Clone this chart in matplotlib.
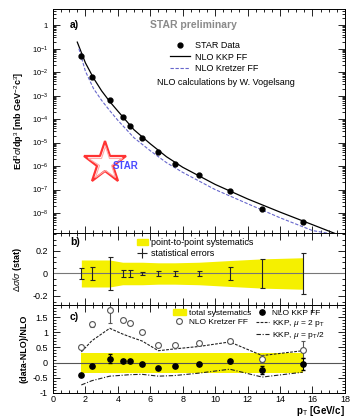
import numpy as np
import matplotlib
matplotlib.use("Agg")
import matplotlib.pyplot as plt
from matplotlib.ticker import MultipleLocator, LogLocator, NullFormatter
from matplotlib.lines import Line2D
from matplotlib.patches import Patch

plt.rcParams['font.family'] = ['Liberation Sans', 'DejaVu Sans']
plt.rcParams['mathtext.fontset'] = 'custom'
plt.rcParams['mathtext.rm'] = 'Liberation Sans'
plt.rcParams['mathtext.it'] = 'Liberation Sans:italic'

# ---- data ----
pt = [1.75, 2.4, 3.5, 4.3, 4.75, 5.5, 6.5, 7.5, 9.0, 10.9, 12.9, 15.4]
xsec = [4.8e-2, 6.3e-3, 6.3e-4, 1.26e-4, 5.0e-5, 1.6e-5, 4.0e-6, 1.26e-6,
        4.0e-7, 8.7e-8, 1.5e-8, 4.2e-9]

# NLO curves
kkp_pt = [1.5, 2.0, 2.5, 3.0, 3.5, 4.0, 5.0, 6.0, 7.0, 8.0, 10.0, 12.0, 14.0, 16.0, 17.5]
kkp_xsec = [0.19, 2.5e-2, 5.6e-3, 1.6e-3, 5.6e-4, 2.2e-4, 3.5e-5, 8.9e-6,
            2.5e-6, 8.9e-7, 1.66e-7, 4.0e-8, 1.1e-8, 3.2e-9, 1.26e-9]
kretzer_pt = [1.6, 2.0, 2.5, 3.0, 3.5, 4.0, 5.0, 6.0, 7.0, 8.0, 10.0, 12.0, 14.0, 16.0, 16.9]
kretzer_xsec = [0.1, 1.1e-2, 2.0e-3, 6.3e-4, 2.3e-4, 8.9e-5, 1.6e-5, 4.5e-6,
                1.4e-6, 5.4e-7, 1.0e-7, 2.5e-8, 6.3e-9, 1.8e-9, 1.4e-9]

# relative errors
stat_err = [0.052, 0.058, 0.143, 0.027, 0.027, 0.015, 0.02, 0.02, 0.022, 0.062, 0.13, 0.184]
p2p_sys = [0.12, 0.12, 0.12, 0.10, 0.10, 0.10, 0.095, 0.095, 0.10, 0.115, 0.13, 0.14]

# (data-NLO)/NLO
kkp_ratio = [-0.42, -0.13, 0.13, 0.04, 0.04, -0.05, -0.19, -0.13, -0.05, 0.04, -0.25, -0.05]
kkp_ratio_err = [0.03, 0.03, 0.16, 0.03, 0.03, 0.02, 0.02, 0.02, 0.03, 0.05, 0.13, 0.2]
kretzer_ratio = [0.52, 1.26, 1.74, 1.39, 1.29, 1.0, 0.58, 0.58, 0.63, 0.71, 0.13, 0.42]
kretzer_ratio_err = [0.05, 0.08, 0.42, 0.05, 0.05, 0.03, 0.03, 0.03, 0.04, 0.06, 0.12, 0.28]
mu2_ratio = [0.35, 0.72, 1.13, 0.94, 0.85, 0.71, 0.39, 0.45, 0.53, 0.68, 0.23, 0.39]
muhalf_ratio = [-0.74, -0.6, -0.45, -0.42, -0.40, -0.39, -0.45, -0.43, -0.35, -0.22, -0.48, -0.32]
tot_sys = [0.33, 0.33, 0.33, 0.33, 0.33, 0.33, 0.33, 0.33, 0.33, 0.33, 0.33, 0.33]

fs = 6.5
yellow = '#f5f000'

fig = plt.figure(figsize=(3.53, 4.17), dpi=100)
ax_a = fig.add_axes([0.150, 0.441, 0.827, 0.537])
ax_b = fig.add_axes([0.150, 0.2686, 0.827, 0.1727])
ax_c = fig.add_axes([0.150, 0.058, 0.827, 0.2106])

def style_axis(ax):
    ax.set_xlim(0, 18)
    ax.xaxis.set_major_locator(MultipleLocator(2))
    ax.xaxis.set_minor_locator(MultipleLocator(0.5))
    ax.tick_params(which='both', direction='in', top=True, right=True,
                   labelsize=fs, width=0.6)
    ax.tick_params(which='major', length=5)
    ax.tick_params(which='minor', length=2.5)
    for s in ax.spines.values():
        s.set_linewidth(0.7)

# ---- a) cross section ----
ax_a.set_yscale('log')
ax_a.plot(kkp_pt, kkp_xsec, color='black', lw=0.9, label='NLO KKP FF')
ax_a.plot(kretzer_pt, kretzer_xsec, color='#6666cc', lw=0.8, ls=(0, (3, 1.5)),
          label='NLO Kretzer FF')
ax_a.plot(pt, xsec, 'o', color='black', ms=3.5, label='STAR Data')
style_axis(ax_a)
ax_a.set_ylim(1.4e-9, 4.8)
ax_a.yaxis.set_major_locator(LogLocator(base=10, numticks=20))
ax_a.yaxis.set_minor_locator(LogLocator(base=10, subs=np.arange(2, 10), numticks=20))
ax_a.yaxis.set_minor_formatter(NullFormatter())
ax_a.set_yticks([1, 1e-1, 1e-2, 1e-3, 1e-4, 1e-5, 1e-6, 1e-7, 1e-8])
ax_a.set_yticklabels(['1'] + [r'$10^{-%d}$' % i for i in range(1, 9)])
ax_a.tick_params(labelbottom=False, labelsize=5.5)
ax_a.set_ylabel(r'Ed$^3\sigma$/dp$^3$ [mb GeV$^{-2}$c$^3$]', fontsize=fs,
                fontweight='bold', labelpad=4)

handles, labels = ax_a.get_legend_handles_labels()
order = [2, 0, 1]
ax_a.legend([handles[i] for i in order], [labels[i] for i in order],
            loc='upper left', bbox_to_anchor=(0.38, 0.885), frameon=False,
            fontsize=fs, handlelength=2.2, labelspacing=0.25, handletextpad=0.6,
            borderpad=0.2)
ax_a.text(0.48, 0.929, 'STAR preliminary', transform=ax_a.transAxes, ha='center',
          va='center', fontsize=7.5, fontweight='bold', color='#8a8a8a')
ax_a.text(0.356, 0.674, 'NLO calculations by W. Vogelsang', transform=ax_a.transAxes,
          ha='left', va='center', fontsize=fs)
ax_a.text(0.058, 0.929, 'a)', transform=ax_a.transAxes, ha='left', va='center',
          fontsize=7.5, fontweight='bold')

# STAR logo
ax_a.plot([0.178], [0.3125], marker='*', ms=32, mfc='white', mec='#ff3333',
          mew=1.6, transform=ax_a.transAxes)
ax_a.plot([0.178], [0.3125], marker='*', ms=25, mfc='none', mec='#ffaaaa',
          mew=0.8, transform=ax_a.transAxes)
ax_a.text(0.25, 0.30, 'STAR', transform=ax_a.transAxes, ha='center', va='center',
          fontsize=7, fontweight='bold', color='#4a4aff')

# ---- b) statistical errors ----
zeros = np.zeros(len(pt))
ax_b.fill_between(pt, -np.array(p2p_sys), p2p_sys, color=yellow, lw=0,
                  label='point-to-point systematics')
ax_b.axhline(0, color='#777777', lw=0.8)
ax_b.errorbar(pt, zeros, yerr=stat_err, fmt='none', ecolor='#222222',
              elinewidth=0.8, capsize=1.8, capthick=0.8)
style_axis(ax_b)
ax_b.set_ylim(-0.28, 0.36)
ax_b.yaxis.set_major_locator(MultipleLocator(0.2))
ax_b.yaxis.set_minor_locator(MultipleLocator(0.05))
ax_b.set_yticks([-0.2, 0, 0.2])
ax_b.set_yticklabels(['-0.2', '0', '0.2'])
ax_b.tick_params(labelbottom=False)
ax_b.set_ylabel(r'$\Delta\sigma/\sigma$ (stat)', fontsize=fs, fontweight='bold',
                labelpad=6)
stat_handle = Line2D([], [], color='#222222', marker='+', ms=7, lw=0, mew=0.8)
ax_b.legend([Patch(color=yellow), stat_handle],
            ['point-to-point systematics', 'statistical errors'],
            loc='upper left', bbox_to_anchor=(0.265, 1.02), frameon=False,
            fontsize=fs, handlelength=1.3, labelspacing=0.2, handletextpad=0.3,
            borderpad=0.2)
ax_b.text(0.058, 0.875, 'b)', transform=ax_b.transAxes, ha='left', va='center',
          fontsize=7.5, fontweight='bold')

# ---- c) data vs NLO ----
ax_c.fill_between(pt, -np.array(tot_sys), tot_sys, color=yellow, lw=0)
ax_c.axhline(0, color='#555555', lw=0.8)
ax_c.plot(pt, mu2_ratio, color='#222222', lw=0.8, ls=(0, (2.5, 1.2)))
ax_c.plot(pt, muhalf_ratio, color='#222222', lw=0.8, ls=(0, (4, 1.5, 1, 1.5)))
ax_c.errorbar(pt, kretzer_ratio, yerr=kretzer_ratio_err, fmt='o', ms=4.2,
              mfc='white', mec='#555555', mew=0.8, ecolor='#555555', elinewidth=0.8,
              capsize=1.5)
ax_c.errorbar(pt, kkp_ratio, yerr=kkp_ratio_err, fmt='o', ms=3.8, color='black',
              elinewidth=0.8, capsize=1.5)
style_axis(ax_c)
ax_c.set_ylim(-1, 1.9)
ax_c.yaxis.set_major_locator(MultipleLocator(0.5))
ax_c.yaxis.set_minor_locator(MultipleLocator(0.1))
ax_c.set_yticks([-1, -0.5, 0, 0.5, 1, 1.5])
ax_c.set_yticklabels(['-1', '-0.5', '0', '0.5', '1', '1.5'])
ax_c.tick_params(axis='x', pad=1.5)
ax_c.set_ylabel('(data-NLO)/NLO', fontsize=fs, fontweight='bold', labelpad=3)
ax_c.set_xlabel(r'p$_{\rm T}$ [GeV/c]', fontsize=7, fontweight='bold', loc='right',
                labelpad=0)

c_handles = [Patch(color=yellow),
             Line2D([], [], ls='none', marker='o', ms=4.2, mfc='white', mec='#555555', mew=0.8),
             Line2D([], [], ls='none'),
             Line2D([], [], ls='none', marker='o', ms=3.8, color='black'),
             Line2D([], [], color='#222222', lw=0.8, ls=(0, (2.5, 1.2))),
             Line2D([], [], color='#222222', lw=0.8, ls=(0, (4, 1.5, 1, 1.5)))]
c_labels = ['total systematics', 'NLO Kretzer FF', '',
            'NLO KKP FF', r'KKP, $\mu$ = 2 p$_{\rm T}$', r'KKP, $\mu$ = p$_{\rm T}$/2']
ax_c.legend(c_handles, c_labels, ncol=2, loc='upper left',
            bbox_to_anchor=(0.39, 1.02), frameon=False, fontsize=6,
            handlelength=1.6, labelspacing=0.15, handletextpad=0.4,
            columnspacing=0.5, borderpad=0.2)
ax_c.text(0.058, 0.867, 'c)', transform=ax_c.transAxes, ha='left', va='center',
          fontsize=7.5, fontweight='bold')

fig.savefig('out.png', dpi=100)
